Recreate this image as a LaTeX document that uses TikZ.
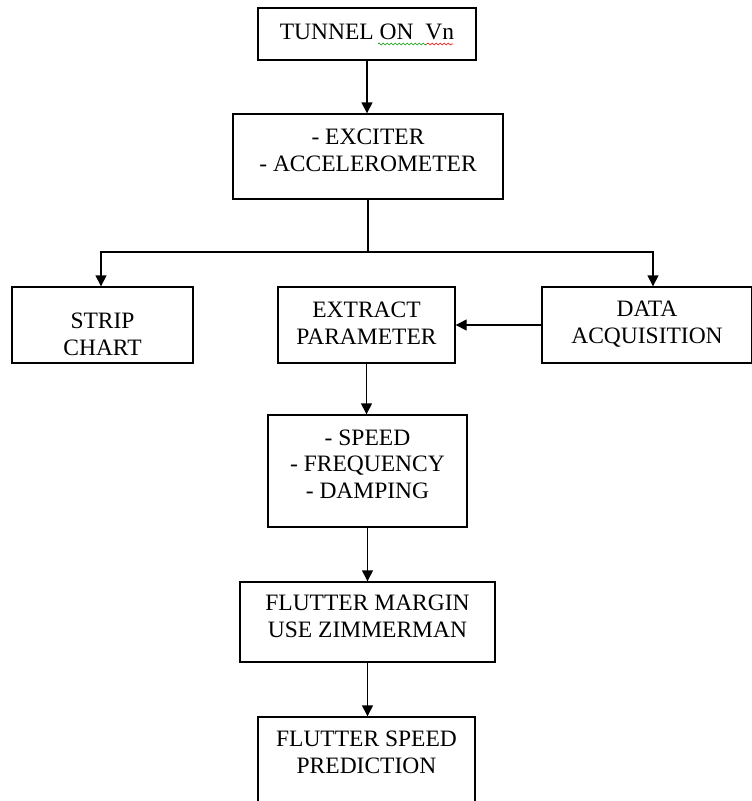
\documentclass[tikz,border=0pt]{standalone}
\usepackage{fontspec}
\setmainfont{Liberation Serif}
\usetikzlibrary{arrows.meta,decorations.pathmorphing}
\tikzset{
  box/.style={draw, line width=1.4pt, inner sep=0pt},
  txt/.style={align=center, inner sep=0pt, font=\fontsize{23.5}{26.5}\selectfont},
  arr/.style={line width=1.4pt, -{Triangle[length=11pt,width=11pt]}},
  squig/.style={line width=0.6pt, decorate, decoration={snake, amplitude=1pt, segment length=4pt}},
}
\begin{document}
\begin{tikzpicture}[x=1pt,y=-1pt]
  \useasboundingbox (0,0) rectangle (752,801);
  \clip (0,0) rectangle (752,801);
  % boxes
  \node[box, minimum width=218, minimum height=52, label={[txt,yshift=2]center:TUNNEL ON\ \ Vn}] (tunnel) at (367,34) {};
  \node[box, minimum width=270, minimum height=85, label={[txt,yshift=6]center:{- EXCITER\\- ACCELEROMETER}}] (exciter) at (368,156.5) {};
  \node[box, minimum width=181, minimum height=76, label={[txt,yshift=-9.5]center:{STRIP\\CHART}}] (strip) at (102.5,325) {};
  \node[box, minimum width=177, minimum height=76, label={[txt,yshift=2]center:{EXTRACT\\PARAMETER}}] (extract) at (366.5,325) {};
  \node[box, minimum width=210, minimum height=76, label={[txt,yshift=1]center:{DATA\\ACQUISITION}}] (data) at (647,325) {};
  \node[box, minimum width=199, minimum height=112, label={[txt,yshift=7]center:{- SPEED\\- FREQUENCY\\- DAMPING}}] (speed) at (367.5,471) {};
  \node[box, minimum width=255, minimum height=80, label={[txt,yshift=5.5]center:{FLUTTER MARGIN\\USE ZIMMERMAN}}] (margin) at (367.5,622) {};
  \node[box, minimum width=217, minimum height=110, label={[txt,yshift=19.5]center:{FLUTTER SPEED\\PREDICTION}}] (predict) at (366.5,772) {};
  % spell check marks
  \draw[squig, green!60!black] (378,44) -- (427,44);
  \draw[squig, red] (427,44) -- (453,44);
  % connectors
  \coordinate (split) at (exciter.south |- 0,252);
  \draw[arr] (tunnel.south) -- (tunnel.south |- exciter.north);
  \draw[line width=1.4pt] (exciter.south) -- (split);
  \draw[arr] (split) -| ([xshift=-1.5pt]strip.north);
  \draw[arr] (split) -| ([xshift=6pt]data.north);
  \draw[arr] (data.west) -- (extract.east);
  \draw[arr] (extract.south) -- (extract.south |- speed.north);
  \draw[arr] (speed.south) -- (speed.south |- margin.north);
  \draw[arr] (margin.south) -- (margin.south |- predict.north);
\end{tikzpicture}
\end{document}
